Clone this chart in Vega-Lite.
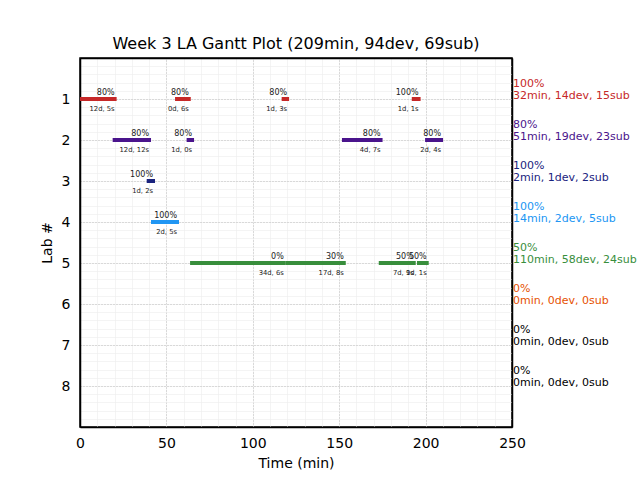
{
  "$schema": "https://vega.github.io/schema/vega-lite/v6.json",
  "width": 432,
  "height": 369,
  "autosize": {"type": "none"},
  "padding": {"left": 80, "top": 58, "right": 128, "bottom": 53},
  "title": {"text": "Week 3 LA Gantt Plot (209min, 94dev, 69sub)", "font": "DejaVu Sans", "fontSize": 16, "fontWeight": "normal", "color": "#000", "offset": 6},
  "config": {
    "view": {"stroke": "#000", "strokeWidth": 1.5},
    "font": "DejaVu Sans"
  },
  "datasets": {
    "bars": [
      {"lab": 1, "start": 0, "end": 21.2, "pct": "80%", "detail": "12d, 5s"},
      {"lab": 1, "start": 55, "end": 64.1, "pct": "80%", "detail": "0d, 6s"},
      {"lab": 1, "start": 116.7, "end": 121, "pct": "80%", "detail": "1d, 3s"},
      {"lab": 1, "start": 192, "end": 197.1, "pct": "100%", "detail": "1d, 1s"},
      {"lab": 2, "start": 18.9, "end": 41.1, "pct": "80%", "detail": "12d, 12s"},
      {"lab": 2, "start": 61.7, "end": 66, "pct": "80%", "detail": "1d, 0s"},
      {"lab": 2, "start": 151.6, "end": 175.1, "pct": "80%", "detail": "4d, 7s"},
      {"lab": 2, "start": 199.7, "end": 210.1, "pct": "80%", "detail": "2d, 4s"},
      {"lab": 3, "start": 38.6, "end": 43.4, "pct": "100%", "detail": "1d, 2s"},
      {"lab": 4, "start": 41.1, "end": 57.3, "pct": "100%", "detail": "2d, 5s"},
      {"lab": 5, "start": 63.7, "end": 119.1, "pct": "0%", "detail": "34d, 6s"},
      {"lab": 5, "start": 119.1, "end": 153.8, "pct": "30%", "detail": "17d, 8s"},
      {"lab": 5, "start": 172.9, "end": 194.3, "pct": "50%", "detail": "7d, 9s"},
      {"lab": 5, "start": 195, "end": 201.8, "pct": "50%", "detail": "1d, 1s"}
    ],
    "labs": [
      {"lab": 1, "pct": "100%", "summary": "32min, 14dev, 15sub"},
      {"lab": 2, "pct": "80%", "summary": "51min, 19dev, 23sub"},
      {"lab": 3, "pct": "100%", "summary": "2min, 1dev, 2sub"},
      {"lab": 4, "pct": "100%", "summary": "14min, 2dev, 5sub"},
      {"lab": 5, "pct": "50%", "summary": "110min, 58dev, 24sub"},
      {"lab": 6, "pct": "0%", "summary": "0min, 0dev, 0sub"},
      {"lab": 7, "pct": "0%", "summary": "0min, 0dev, 0sub"},
      {"lab": 8, "pct": "0%", "summary": "0min, 0dev, 0sub"}
    ]
  },
  "resolve": {"axis": {"x": "independent", "y": "independent"}},
  "layer": [
    {
      "data": {"name": "bars"},
      "mark": {"type": "rule", "opacity": 0},
      "encoding": {
        "x": {"field": "start", "type": "quantitative", "scale": {"domain": [0, 250], "nice": false, "zero": false},
          "axis": {"orient": "top", "values": [10,20,30,40,50,60,70,80,90,100,110,120,130,140,150,160,170,180,190,200,210,220,230,240], "grid": true, "gridColor": "#ececec", "gridWidth": 0.6, "labels": false, "ticks": false, "domain": true, "domainColor": "#000", "domainWidth": 1.5, "title": null}},
        "y": {"field": "lab", "type": "quantitative", "scale": {"domain": [0, 9], "nice": false, "zero": false, "reverse": true},
          "axis": {"orient": "right", "values": [0.2,0.4,0.6,0.8,1,1.2,1.4,1.6,1.8,2,2.2,2.4,2.6,2.8,3,3.2,3.4,3.6,3.8,4,4.2,4.4,4.6,4.8,5,5.2,5.4,5.6,5.8,6,6.2,6.4,6.6,6.8,7,7.2,7.4,7.6,7.8,8,8.2,8.4,8.6,8.8], "grid": true, "gridColor": "#ececec", "gridWidth": 0.6, "labels": false, "ticks": false, "domain": true, "domainColor": "#000", "domainWidth": 1.5, "title": null}}
      }
    },
    {
      "data": {"name": "bars"},
      "mark": {"type": "rule", "strokeWidth": 4, "strokeCap": "butt"},
      "encoding": {
        "x": {"field": "start", "type": "quantitative",
          "axis": {"orient": "bottom", "values": [0,50,100,150,200,250], "grid": true, "gridColor": "#b0b0b0", "gridDash": [1,2], "gridWidth": 0.8,
            "gridOpacity": {"condition": {"test": "datum.value === 0 || datum.value === 250", "value": 0}, "value": 1},
            "ticks": false, "domain": true, "domainColor": "#000", "domainWidth": 1.5, "labelFlush": false, "labelFont": "DejaVu Sans", "labelFontSize": 14, "labelColor": "#000", "labelPadding": 9, "title": "Time (min)", "titleFont": "DejaVu Sans", "titleFontSize": 14, "titleFontWeight": "normal", "titleColor": "#000", "titlePadding": 6}},
        "x2": {"field": "end"},
        "y": {"field": "lab", "type": "quantitative",
          "axis": {"orient": "left", "values": [1,2,3,4,5,6,7,8], "grid": true, "gridColor": "#b0b0b0", "gridDash": [1,2], "gridWidth": 0.8, "ticks": false, "domain": true, "domainColor": "#000", "domainWidth": 1.5, "labelFlush": false, "labelFont": "DejaVu Sans", "labelFontSize": 14, "labelColor": "#000", "labelPadding": 10, "title": "Lab #", "titleFont": "DejaVu Sans", "titleFontSize": 14, "titleFontWeight": "normal", "titleColor": "#000", "titlePadding": 7}},
        "color": {"field": "lab", "type": "nominal", "legend": null,
          "scale": {"domain": [1,2,3,4,5,6,7,8], "range": ["#c62828", "#4a148c", "#1a237e", "#2196f3", "#388e3c", "#e65100", "#000000", "#000000"]}}
      }
    },
    {
      "data": {"name": "bars"},
      "mark": {"type": "text", "align": "right", "baseline": "alphabetic", "dx": -2, "dy": -4, "fontSize": 8, "font": "DejaVu Sans", "color": "#222"},
      "encoding": {
        "x": {"field": "end", "type": "quantitative", "axis": null},
        "y": {"field": "lab", "type": "quantitative", "axis": null},
        "text": {"field": "pct"}
      }
    },
    {
      "data": {"name": "bars"},
      "mark": {"type": "text", "align": "right", "baseline": "alphabetic", "dx": -2, "dy": 12, "fontSize": 6.8, "font": "DejaVu Sans", "color": "#222"},
      "encoding": {
        "x": {"field": "end", "type": "quantitative", "axis": null},
        "y": {"field": "lab", "type": "quantitative", "axis": null},
        "text": {"field": "detail"}
      }
    },
    {
      "data": {"name": "labs"},
      "mark": {"type": "text", "align": "left", "baseline": "alphabetic", "dx": 1, "dy": -12, "fontSize": 11, "font": "DejaVu Sans"},
      "encoding": {
        "x": {"datum": 250, "type": "quantitative", "axis": null},
        "y": {"field": "lab", "type": "quantitative", "axis": null},
        "text": {"field": "pct"},
        "color": {"field": "lab", "type": "nominal", "legend": null}
      }
    },
    {
      "data": {"name": "labs"},
      "mark": {"type": "text", "align": "left", "baseline": "alphabetic", "dx": 1, "dy": 0, "fontSize": 11, "font": "DejaVu Sans"},
      "encoding": {
        "x": {"datum": 250, "type": "quantitative", "axis": null},
        "y": {"field": "lab", "type": "quantitative", "axis": null},
        "text": {"field": "summary"},
        "color": {"field": "lab", "type": "nominal", "legend": null}
      }
    }
  ]
}
